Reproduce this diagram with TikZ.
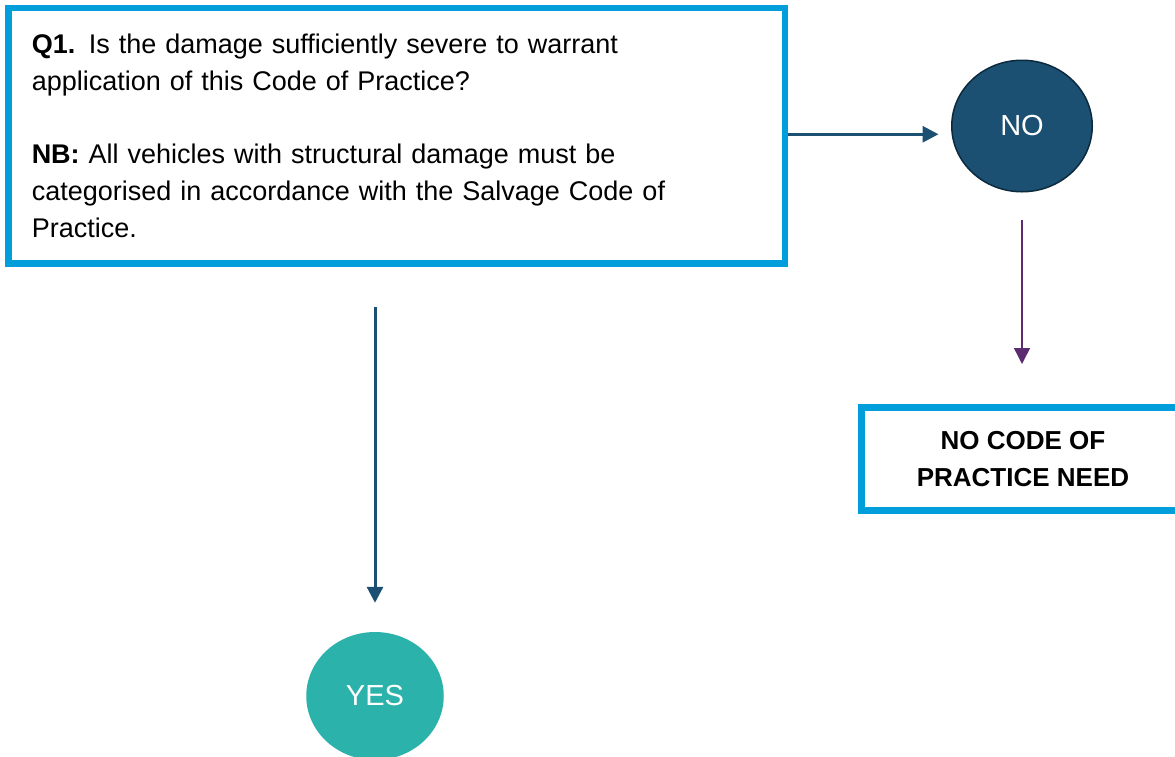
\documentclass[tikz,border=0pt]{standalone}
\usepackage{fontspec}
\setmainfont{Liberation Sans}
\usepackage{xcolor}
\usepackage{tikz}
\usetikzlibrary{arrows.meta, shapes.geometric}

\definecolor{qcyan}{RGB}{0,158,219}
\definecolor{noblue}{RGB}{27,80,114}
\definecolor{noedge}{RGB}{12,42,62}
\definecolor{npurple}{RGB}{91,44,111}
\definecolor{yesteal}{RGB}{43,179,171}

\begin{document}
\begin{tikzpicture}[x=1pt, y=-1pt,
	>={Triangle[length=16pt, width=16pt]},
	qbox/.style={draw=qcyan, line width=6.5pt, minimum width=776.5pt, minimum height=255.5pt,
		inner xsep=23pt, text width=730pt, align=left, font=\fontsize{27}{36.8}\selectfont},
	endbox/.style={draw=qcyan, line width=7pt, minimum width=324pt, minimum height=103pt,
		align=center, font=\fontsize{26}{36.7}\selectfont\bfseries},
	bubble/.style={ellipse, text=white, inner sep=0pt, font=\fontsize{29}{30}\selectfont}]
	\useasboundingbox (0,0) rectangle (1175,756);
	\clip (0,0) rectangle (1175,756);
	% question box
	\node[qbox] (q1) at (396.75,135.75) {{\bfseries Q1.} Is the damage sufficiently severe to warrant\\
		application of this Code of Practice?\\[36.8pt]
		{\bfseries NB:} All vehicles with structural damage must be\\
		categorised in accordance with the Salvage Code of\\
		Practice.};
	% answers
	\node[bubble, fill=noblue, draw=noedge, line width=1.5pt, minimum width=140.5pt, minimum height=131.5pt] (no) at (1022,126) {NO};
	\node[endbox] (nocode) at (1023,459) {NO CODE OF\\PRACTICE NEED};
	\node[bubble, fill=yesteal, minimum width=137.5pt, minimum height=128pt] (yes) at (375,696) {YES};
	% connectors
	\draw[noblue, ->, line width=3pt, shorten >=12.5pt] ([yshift=1.5pt]q1.east) -- ([yshift=1.5pt]q1.east -| no.west);
	\draw[npurple, ->, line width=1.5pt, shorten <=27pt, shorten >=40pt] (no.south) -- (no.south |- nocode.north);
	\draw[noblue, ->, line width=3pt, shorten <=40pt, shorten >=29pt] (q1.south -| yes.north) -- (yes.north);
\end{tikzpicture}
\end{document}
